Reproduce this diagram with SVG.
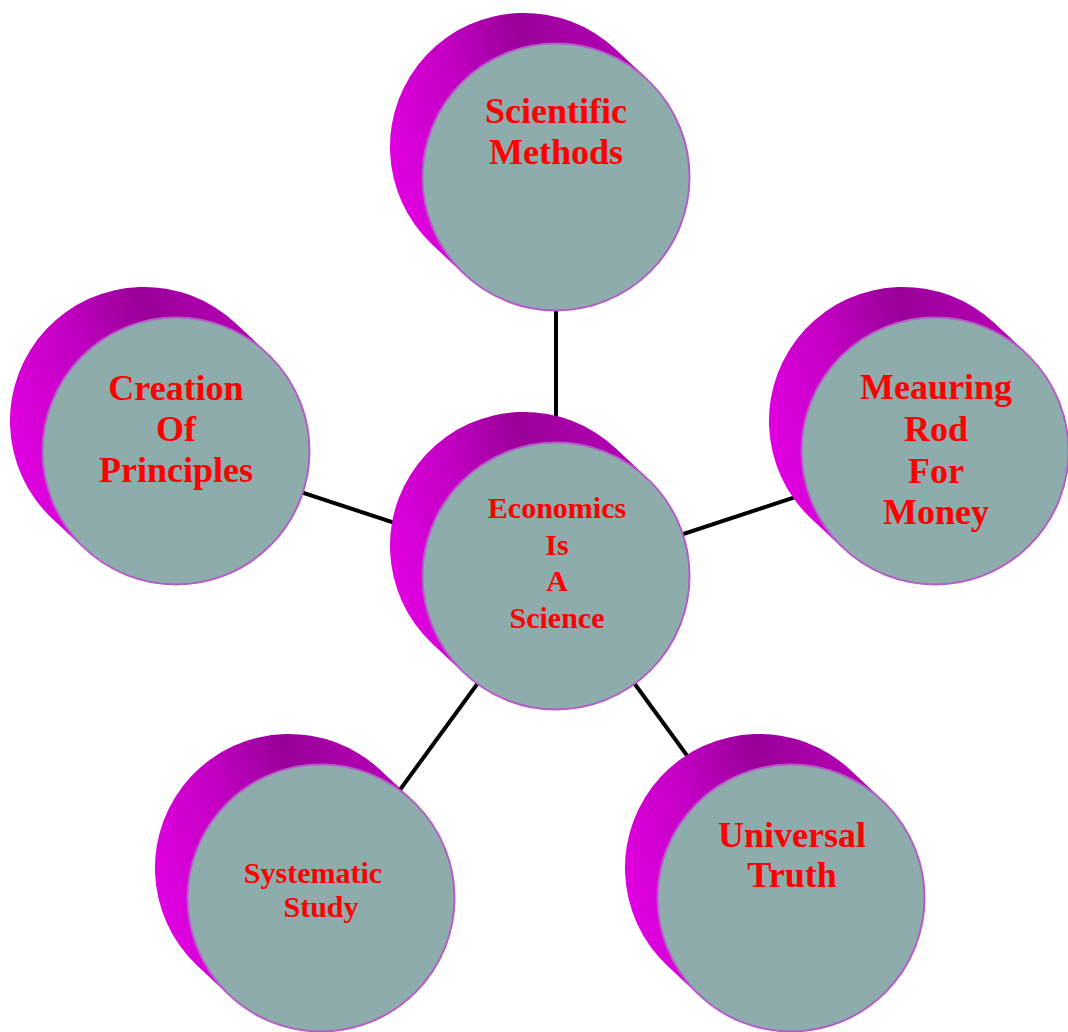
<svg xmlns="http://www.w3.org/2000/svg" xmlns:xlink="http://www.w3.org/1999/xlink" width="1068" height="1032" viewBox="0 0 1068 1032">
  <style>
    .conn { stroke: #000000; stroke-width: 4; fill: none; }
    .face { fill: #8eacac; stroke: #b45cc8; stroke-width: 2; }
    .lbl { font-family: "Liberation Serif", "Times New Roman", serif; font-weight: bold; fill: #ff0000; text-anchor: middle; }
    .big { font-size: 36px; }
    .small { font-size: 30px; }
  </style>
  <defs>
    <linearGradient id="side" x1="0" y1="0.55" x2="1" y2="0.25">
      <stop offset="0" stop-color="#e000e0"/>
      <stop offset="0.3" stop-color="#c400c4"/>
      <stop offset="0.6" stop-color="#990099"/>
      <stop offset="1" stop-color="#b800b8"/>
    </linearGradient>
    <path id="ext" fill="url(#side)" d="M 59.66,-127.77 A 134 134 0 1 0 -123.66,67.77 L -91.66,97.77 L 91.66,-97.77 Z"/>
  </defs>
  <rect width="1068" height="1032" fill="#ffffff"/>
  <g id="connectors">
    <line class="conn" x1="556" y1="576" x2="556" y2="177"/>
    <line class="conn" x1="556" y1="576" x2="176" y2="451"/>
    <line class="conn" x1="556" y1="576" x2="935" y2="451"/>
    <line class="conn" x1="556" y1="576" x2="321" y2="898"/>
    <line class="conn" x1="556" y1="576" x2="791" y2="898"/>
  </g>
  <g id="node-scientific">
    <use xlink:href="#ext" href="#ext" transform="translate(556,177)"/>
    <circle class="face" cx="556" cy="177" r="133.5"/>
    <text class="lbl big" x="556" y="123">Scientific</text>
    <text class="lbl big" x="556" y="164">Methods</text>
  </g>
  <g id="node-creation">
    <use xlink:href="#ext" href="#ext" transform="translate(176,451)"/>
    <circle class="face" cx="176" cy="451" r="133.5"/>
    <text class="lbl big" x="176" y="400">Creation</text>
    <text class="lbl big" x="176" y="441">Of</text>
    <text class="lbl big" x="176" y="482">Principles</text>
  </g>
  <g id="node-measuring">
    <use xlink:href="#ext" href="#ext" transform="translate(935,451)"/>
    <circle class="face" cx="935" cy="451" r="133.5"/>
    <text class="lbl big" x="936" y="399">Meauring</text>
    <text class="lbl big" x="936" y="441">Rod</text>
    <text class="lbl big" x="936" y="483">For</text>
    <text class="lbl big" x="936" y="524">Money</text>
  </g>
  <g id="node-center">
    <use xlink:href="#ext" href="#ext" transform="translate(556,576)"/>
    <circle class="face" cx="556" cy="576" r="133.5"/>
    <text class="lbl small" x="557" y="518">Economics</text>
    <text class="lbl small" x="557" y="554.5">Is</text>
    <text class="lbl small" x="557" y="591">A</text>
    <text class="lbl small" x="557" y="627.5">Science</text>
  </g>
  <g id="node-systematic">
    <use xlink:href="#ext" href="#ext" transform="translate(321,898)"/>
    <circle class="face" cx="321" cy="898" r="133.5"/>
    <text class="lbl small" x="313" y="883">Systematic</text>
    <text class="lbl small" x="321" y="917">Study</text>
  </g>
  <g id="node-universal">
    <use xlink:href="#ext" href="#ext" transform="translate(791,898)"/>
    <circle class="face" cx="791" cy="898" r="133.5"/>
    <text class="lbl big" x="792" y="847">Universal</text>
    <text class="lbl big" x="792" y="887">Truth</text>
  </g>
</svg>
